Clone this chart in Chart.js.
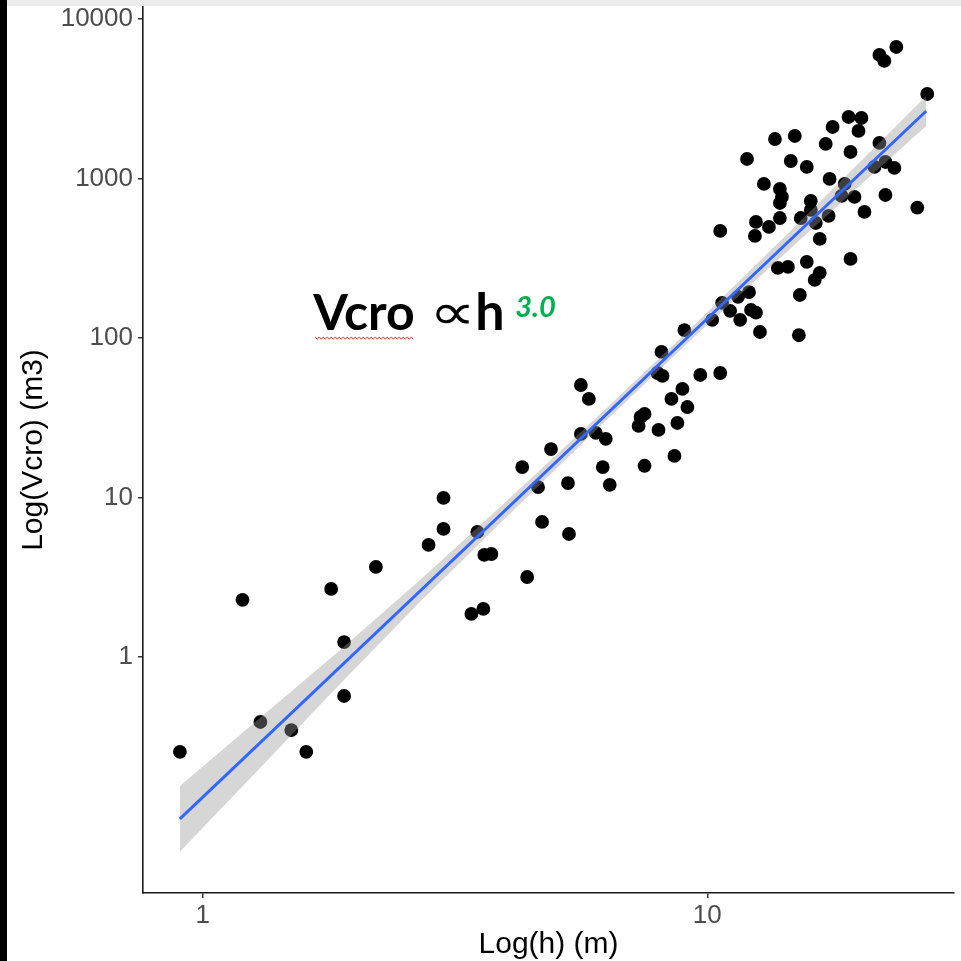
<!DOCTYPE html>
<html>
<head>
<meta charset="utf-8">
<title>Vcro vs h</title>
<script src="https://cdn.jsdelivr.net/npm/chart.js@4.4.1/dist/chart.umd.min.js"></script>
<style>
  html, body { margin: 0; padding: 0; background: #fff; }
  #wrap { position: relative; width: 961px; height: 961px; overflow: hidden; }
  #plot { position: absolute; left: 0; top: 0; }
  /* window frame strips around the plot */
  #edge-left { position: absolute; left: 0; top: 0; width: 7px; height: 961px; background: #000; }
  #edge-top { position: absolute; left: 7px; top: 0; right: 0; height: 6px; background: #ebebeb; }
</style>
</head>
<body>
<div id="wrap">
  <canvas id="plot" width="961" height="961"></canvas>
  <div id="edge-left"></div>
  <div id="edge-top"></div>
</div>
<script>
// ----------------------------------------------------------------
// Data: crown volume (m3) against height (m)
// ----------------------------------------------------------------

const heightM = [
  0.901, 1.199, 1.301, 1.498, 1.604, 1.797, 1.906, 1.906, 2.204, 2.803,
  3.001, 3.001, 3.408, 3.599, 3.502, 3.615, 3.733, 4.396, 4.298, 4.620,
  4.705, 4.901, 5.320, 5.296, 5.617, 5.825, 5.617, 6.013, 6.292, 6.207,
  6.408, 7.310, 7.377, 7.511, 7.511, 8.005, 8.727, 8.609, 8.927, 8.492,
  9.133, 7.969, 8.152, 8.115, 9.687, 10.61, 9.008, 10.23, 10.70, 11.10,
  11.62, 11.51, 12.10, 12.21, 12.49, 12.72, 15.19, 15.26, 10.61, 12.43,
  12.49, 13.25, 13.80, 14.45, 13.93, 15.32, 16.41, 17.40, 16.71, 15.75,
  16.71, 16.33, 19.23, 12.95, 13.93, 14.06, 13.93, 16.04, 16.04, 18.46,
  19.58, 20.49, 22.55, 26.08, 17.48, 18.72, 11.99, 14.64, 15.75, 19.23,
  21.45, 22.55, 23.49, 13.62, 14.91, 17.17, 21.94, 17.72, 19.06, 20.21,
  19.94, 27.29, 21.94, 22.44, 23.70
];

const volumeM3 = [
  0.254, 2.28, 0.391, 0.348, 0.254, 2.67, 1.24, 0.569, 3.67, 5.04,
  9.93, 6.35, 1.86, 2.00, 6.08, 4.36, 4.42, 3.17, 15.5, 11.6,
  7.02, 20.1, 5.90, 12.3, 50.7, 41.5, 25.0, 25.4, 23.3, 15.5,
  12.0, 28.1, 32.0, 33.4, 15.8, 26.5, 29.3, 18.2, 47.9, 41.5,
  36.9, 60.3, 57.8, 81.7, 58.6, 60.3, 112, 130, 166, 148,
  130, 181, 194, 150, 144, 109, 104, 186, 469, 436,
  534, 497, 275, 279, 565, 565, 526, 582, 418, 300,
  256, 231, 313, 924, 860, 766, 702, 723, 635, 777,
  766, 617, 788, 656, 993, 924, 1325, 1287, 1181, 1466,
  1181, 1269, 1164, 1768, 1847, 1646, 1670, 2103, 2430, 2395,
  1986, 3387, 5947, 5455, 6675
];

// power-law fit (slope 3.0 on log-log axes) and its confidence band
const fitH = [0.901, 27.16];
const fitV = [0.0965, 2650];

const bandH     = [0.901, 1.296, 1.863, 2.679, 3.853, 6.067, 9.557, 15.05, 20.69, 27.16];
const bandUpper = [0.155, 0.412, 1.090, 2.980, 8.480, 32.20, 125.8, 513.0, 1392,  3291];
const bandLower = [0.060, 0.200, 0.668, 2.170, 6.730, 27.10, 105.8, 396.0, 984.0, 2134];

const xTicks = [1, 10];
const yTicks = [1, 10, 100, 1000, 10000];

const xRange = [0.7614, 30.85];
const yRange = [0.0331, 11890];

// where the formula label sits, in data units (left edge / baseline)
const formulaAnchor = { x: 1.656, y: 112 };

// ----------------------------------------------------------------
// Helpers
// ----------------------------------------------------------------

const pairs = (xs, ys) => xs.map((x, i) => ({ x, y: ys[i] }));

const SANS = "'Liberation Sans', Arial, sans-serif";
const LABEL = "Lato, 'Open Sans', sans-serif";

// "Vcro ∝ h^3.0" drawn over the plot, with the red squiggle under Vcro
const formulaLabel = {
  id: "formulaLabel",
  afterDraw(chart) {
    const { ctx, scales } = chart;
    const x0 = scales.x.getPixelForValue(formulaAnchor.x);
    const base = scales.y.getPixelForValue(formulaAnchor.y);

    ctx.save();
    ctx.textBaseline = "alphabetic";
    ctx.textAlign = "left";
    ctx.fillStyle = "#000";

    ctx.font = `bold 50px ${LABEL}`;
    ctx.fillText("Vcro", x0, base);
    const wV = ctx.measureText("Vcro").width;

    // spell-check style wavy underline
    ctx.strokeStyle = "#e03a3a";
    ctx.lineWidth = 1;
    ctx.beginPath();
    let up = true;
    for (let x = x0 + 2; x <= x0 + wV; x += 2) {
      const y = base + 8 + (up ? -1.2 : 1.2);
      if (x === x0 + 2) ctx.moveTo(x, y); else ctx.lineTo(x, y);
      up = !up;
    }
    ctx.stroke();

    // proportional-to sign, a little wider than the stock glyph
    ctx.save();
    ctx.translate(x0 + 116, base - 1);
    ctx.scale(1.3, 1);
    ctx.font = `50px 'DejaVu Sans', sans-serif`;
    ctx.fillText("\u221D", 0, 0);
    ctx.restore();

    ctx.font = `bold 52px ${LABEL}`;
    ctx.fillText("h", x0 + 162, base);

    ctx.font = `italic bold 29px ${LABEL}`;
    ctx.fillStyle = "#00b050";
    ctx.fillText("3.0", x0 + 202, base - 13);
    ctx.restore();
  },
};

// ----------------------------------------------------------------
// Chart
// ----------------------------------------------------------------

new Chart(document.getElementById("plot").getContext("2d"), {
  type: "scatter",
  data: {
    datasets: [
      {
        type: "line",
        label: "fit",
        data: pairs(fitH, fitV),
        borderColor: "#3366ff",
        borderWidth: 3,
        pointRadius: 0,
        fill: false,
        showLine: true,
      },
      {
        type: "line",
        label: "band upper",
        data: pairs(bandH, bandUpper),
        borderWidth: 0,
        borderColor: "transparent",
        backgroundColor: "rgba(153, 153, 153, 0.4)",
        pointRadius: 0,
        fill: "+1",
        showLine: true,
      },
      {
        type: "line",
        label: "band lower",
        data: pairs(bandH, bandLower),
        borderWidth: 0,
        borderColor: "transparent",
        pointRadius: 0,
        fill: false,
        showLine: true,
      },
      {
        label: "trees",
        data: pairs(heightM, volumeM3),
        backgroundColor: "#000",
        borderWidth: 0,
        pointRadius: 6.9,
      },
    ],
  },
  options: {
    responsive: false,
    animation: false,
    events: [],
    layout: { padding: { top: 7, right: 3, left: 0, bottom: 0 } },
    plugins: { legend: { display: false }, tooltip: { enabled: false } },
    scales: {
      x: {
        type: "logarithmic",
        min: xRange[0],
        max: xRange[1],
        afterBuildTicks: (s) => { s.ticks = xTicks.map((v) => ({ value: v })); },
        afterFit: (s) => { s.height = 68; s.paddingLeft = 0; s.paddingRight = 0; },
        ticks: {
          color: "#4d4d4d",
          font: { family: SANS, size: 26 },
          padding: 2,
          maxRotation: 0,
          autoSkip: false,
          callback: (v) => String(v),
        },
        grid: { drawOnChartArea: false, drawTicks: true, tickLength: 5, color: "#333", lineWidth: 1.5 },
        border: { display: true, color: "#1a1a1a", width: 1.6 },
        title: {
          display: true,
          text: "Log(h) (m)",
          color: "#000",
          font: { family: SANS, size: 30, lineHeight: 1.1 },
          padding: { top: 0, bottom: 0 },
        },
      },
      y: {
        type: "logarithmic",
        min: yRange[0],
        max: yRange[1],
        afterBuildTicks: (s) => { s.ticks = yTicks.map((v) => ({ value: v })); },
        afterFit: (s) => { s.width = 143; s.paddingTop = 0; s.paddingBottom = 0; },
        ticks: {
          color: "#4d4d4d",
          font: { family: SANS, size: 26 },
          padding: 5,
          autoSkip: false,
          callback: (v) => String(v),
        },
        grid: { drawOnChartArea: false, drawTicks: true, tickLength: 5, color: "#333", lineWidth: 1.5 },
        border: { display: true, color: "#1a1a1a", width: 1.6 },
        title: {
          display: true,
          text: "Log(Vcro) (m3)",
          color: "#000",
          font: { family: SANS, size: 30 },
          padding: { top: 16, bottom: 0 },
        },
      },
    },
  },
  plugins: [formulaLabel],
});
</script>
</body>
</html>
